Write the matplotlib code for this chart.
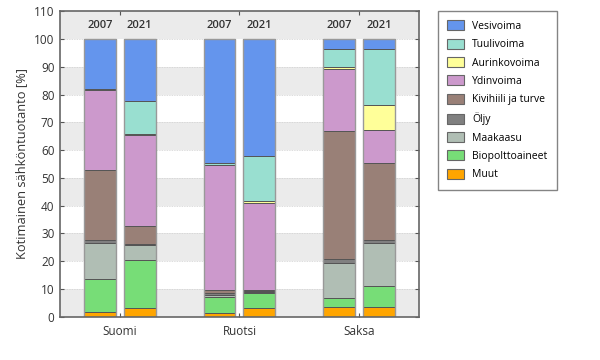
import matplotlib
matplotlib.use("Agg")
import matplotlib.pyplot as plt
import numpy as np
from matplotlib.patches import Patch, Rectangle

countries = ["Suomi", "Ruotsi", "Saksa"]
years = ["2007", "2021"]
# order of bars: Suomi2007, Suomi2021, Ruotsi2007, Ruotsi2021, Saksa2007, Saksa2021
sources = ["Muut", "Biopolttoaineet", "Maakaasu", "Öljy", "Kivihiili ja turve",
           "Ydinvoima", "Aurinkovoima", "Tuulivoima", "Vesivoima"]
muut      = [1.8, 3.0, 1.2, 3.0, 3.4, 3.4]
bio       = [11.7, 17.4, 6.0, 5.6, 3.2, 7.8]
maakaasu  = [13.2, 5.4, 0.6, 0.2, 12.6, 15.5]
oljy      = [0.9, 0.3, 0.6, 0.4, 1.5, 1.1]
kivihiili = [25.4, 6.5, 1.2, 0.4, 46.1, 27.7]
ydin      = [28.8, 32.7, 45.0, 31.2, 22.5, 11.9]
aurinko   = [0.0, 0.4, 0.0, 0.9, 0.6, 8.9]
tuuli     = [0.3, 11.8, 0.9, 16.2, 6.6, 20.2]
vesi      = [17.9, 22.5, 44.5, 42.1, 3.5, 3.5]

colors = ["#ffa500", "#77dd77", "#b0beb4", "#808080", "#998077",
          "#cc99cc", "#ffff99", "#99dfd0", "#6495ed"]

series = [muut, bio, maakaasu, oljy, kivihiili, ydin, aurinko, tuuli, vesi]

plt.rcParams['font.family'] = ['Open Sans', 'DejaVu Sans']
fig = plt.figure(figsize=(6, 3.6), dpi=100)
ax = fig.add_axes([0.1, 0.12, 0.598, 0.849])

ax.set_xlim(0, 3)
ax.set_ylim(0, 110)

# background bands
for lo in range(0, 110, 20):
    ax.axhspan(lo, lo + 10, color="#ebebeb", zorder=0, lw=0)
for yv in range(10, 110, 10):
    ax.axhline(yv, color="#d0d0d0", lw=0.6, ls=(0, (1, 1)), zorder=0.5)

width = 0.2667
offsets = [-0.1667, 0.1667]
xs = []
for gi in range(len(countries)):
    for oi in offsets:
        xs.append(gi + 0.5 + oi)
xs = np.array(xs)

# white area behind each pair
for gi in range(len(countries)):
    left = gi + 0.5 + offsets[0] - width / 2
    right = gi + 0.5 + offsets[1] + width / 2
    ax.add_patch(Rectangle((left, 0), right - left, 100, facecolor="white",
                           edgecolor="none", zorder=1))

bottom = np.zeros(len(xs))
for vals, col in zip(series, colors):
    v = np.array(vals)
    ax.bar(xs, v, width, bottom=bottom, color=col, edgecolor="#555555",
           linewidth=0.7, zorder=2)
    bottom += v

# outer outline
for x in xs:
    ax.add_patch(Rectangle((x - width / 2, 0), width, 100, facecolor="none",
                           edgecolor="#999999", lw=1.0, zorder=3))

for x, i in zip(xs, range(len(xs))):
    ax.text(x, 105, years[i % 2], ha="center", va="center", fontsize=8,
            color="#333333", fontweight="semibold")

ax.set_xticks([0.5, 1.5, 2.5])
ax.set_xticklabels(countries, fontsize=8.5, color="#333333")
ax.set_yticks(range(0, 111, 10))
ax.set_yticklabels([str(v) for v in range(0, 111, 10)], fontsize=8.5, color="#333333")
ax.tick_params(direction="in", top=True, right=True, length=3, width=0.8,
               color="#555555", pad=4)
ax.tick_params(axis="x", pad=6)
for s in ax.spines.values():
    s.set_color("#666666")
    s.set_linewidth(1.2)
    s.set_zorder(5)

ax.set_ylabel("Kotimainen sähköntuotanto [%]", fontsize=9.3, color="#333333")

handles = [Patch(facecolor=c, edgecolor="#666666", lw=0.8, label=l)
           for c, l in zip(colors[::-1], sources[::-1])]
leg = fig.legend(handles=handles, loc="upper left", bbox_to_anchor=(0.73, 0.97),
                 fontsize=7.5, frameon=True, fancybox=False, edgecolor="#666666",
                 handlelength=1.6, handleheight=1.1, labelspacing=0.66,
                 borderpad=0.9, handletextpad=0.8, borderaxespad=0)
leg.get_frame().set_linewidth(1.0)

fig.savefig("out.png", dpi=100)
